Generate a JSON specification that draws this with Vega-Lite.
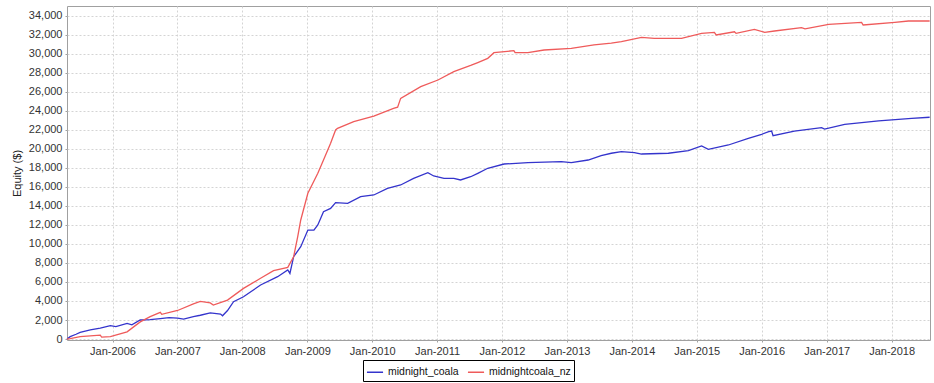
{
  "$schema": "https://vega.github.io/schema/vega-lite/v6.json",
  "width": 863,
  "height": 334,
  "autosize": {"type": "none"},
  "padding": {"left": 67, "top": 6, "right": 4, "bottom": 43},
  "background": "white",
  "config": {
    "view": {"stroke": "#a0a0a0", "strokeWidth": 1},
    "font": "Liberation Sans",
    "axis": {
      "labelFont": "Liberation Sans",
      "labelFontSize": 11,
      "labelColor": "#333333",
      "titleFont": "Liberation Sans",
      "titleFontSize": 11,
      "titleFontWeight": "normal",
      "titleColor": "#222222",
      "domain": false,
      "tickColor": "#a0a0a0",
      "tickSize": 2,
      "gridColor": "#d4d4d4",
      "gridDash": [2, 2],
      "gridWidth": 1
    }
  },
  "data": {
    "values": [
      {"date": "2005-04-20", "series": "midnight_coala", "equity": 0},
      {"date": "2005-05-08", "series": "midnight_coala", "equity": 250},
      {"date": "2005-06-10", "series": "midnight_coala", "equity": 500},
      {"date": "2005-07-03", "series": "midnight_coala", "equity": 700},
      {"date": "2005-08-29", "series": "midnight_coala", "equity": 950},
      {"date": "2005-10-24", "series": "midnight_coala", "equity": 1150},
      {"date": "2005-12-20", "series": "midnight_coala", "equity": 1400},
      {"date": "2006-01-20", "series": "midnight_coala", "equity": 1300},
      {"date": "2006-03-24", "series": "midnight_coala", "equity": 1650},
      {"date": "2006-04-20", "series": "midnight_coala", "equity": 1500},
      {"date": "2006-06-06", "series": "midnight_coala", "equity": 2000},
      {"date": "2006-08-01", "series": "midnight_coala", "equity": 2050},
      {"date": "2006-09-27", "series": "midnight_coala", "equity": 2150},
      {"date": "2006-11-15", "series": "midnight_coala", "equity": 2250},
      {"date": "2007-01-02", "series": "midnight_coala", "equity": 2200},
      {"date": "2007-02-05", "series": "midnight_coala", "equity": 2100},
      {"date": "2007-04-01", "series": "midnight_coala", "equity": 2350},
      {"date": "2007-05-10", "series": "midnight_coala", "equity": 2500},
      {"date": "2007-07-05", "series": "midnight_coala", "equity": 2750},
      {"date": "2007-09-01", "series": "midnight_coala", "equity": 2630},
      {"date": "2007-09-12", "series": "midnight_coala", "equity": 2450},
      {"date": "2007-10-10", "series": "midnight_coala", "equity": 3000},
      {"date": "2007-11-13", "series": "midnight_coala", "equity": 3930},
      {"date": "2008-01-08", "series": "midnight_coala", "equity": 4450},
      {"date": "2008-02-20", "series": "midnight_coala", "equity": 5000},
      {"date": "2008-04-13", "series": "midnight_coala", "equity": 5680},
      {"date": "2008-07-18", "series": "midnight_coala", "equity": 6560},
      {"date": "2008-09-13", "series": "midnight_coala", "equity": 7260},
      {"date": "2008-09-25", "series": "midnight_coala", "equity": 6900},
      {"date": "2008-10-16", "series": "midnight_coala", "equity": 8660},
      {"date": "2008-11-25", "series": "midnight_coala", "equity": 9720},
      {"date": "2009-01-04", "series": "midnight_coala", "equity": 11470},
      {"date": "2009-02-07", "series": "midnight_coala", "equity": 11470},
      {"date": "2009-03-01", "series": "midnight_coala", "equity": 12000},
      {"date": "2009-04-02", "series": "midnight_coala", "equity": 13400},
      {"date": "2009-05-12", "series": "midnight_coala", "equity": 13750},
      {"date": "2009-06-09", "series": "midnight_coala", "equity": 14350},
      {"date": "2009-08-16", "series": "midnight_coala", "equity": 14280},
      {"date": "2009-10-28", "series": "midnight_coala", "equity": 14980},
      {"date": "2010-01-10", "series": "midnight_coala", "equity": 15160},
      {"date": "2010-03-28", "series": "midnight_coala", "equity": 15860},
      {"date": "2010-06-10", "series": "midnight_coala", "equity": 16210},
      {"date": "2010-08-22", "series": "midnight_coala", "equity": 16910},
      {"date": "2010-11-10", "series": "midnight_coala", "equity": 17510},
      {"date": "2010-12-13", "series": "midnight_coala", "equity": 17160},
      {"date": "2011-02-09", "series": "midnight_coala", "equity": 16910},
      {"date": "2011-04-05", "series": "midnight_coala", "equity": 16910},
      {"date": "2011-05-13", "series": "midnight_coala", "equity": 16740},
      {"date": "2011-07-09", "series": "midnight_coala", "equity": 17080},
      {"date": "2011-08-18", "series": "midnight_coala", "equity": 17440},
      {"date": "2011-10-13", "series": "midnight_coala", "equity": 17970},
      {"date": "2012-01-13", "series": "midnight_coala", "equity": 18420},
      {"date": "2012-05-26", "series": "midnight_coala", "equity": 18560},
      {"date": "2012-11-30", "series": "midnight_coala", "equity": 18660},
      {"date": "2013-01-25", "series": "midnight_coala", "equity": 18560},
      {"date": "2013-04-30", "series": "midnight_coala", "equity": 18840},
      {"date": "2013-07-12", "series": "midnight_coala", "equity": 19300},
      {"date": "2013-09-07", "series": "midnight_coala", "equity": 19550},
      {"date": "2013-11-03", "series": "midnight_coala", "equity": 19720},
      {"date": "2014-01-15", "series": "midnight_coala", "equity": 19610},
      {"date": "2014-02-24", "series": "midnight_coala", "equity": 19470},
      {"date": "2014-07-25", "series": "midnight_coala", "equity": 19550},
      {"date": "2014-11-15", "series": "midnight_coala", "equity": 19820},
      {"date": "2015-01-28", "series": "midnight_coala", "equity": 20320},
      {"date": "2015-03-07", "series": "midnight_coala", "equity": 19970},
      {"date": "2015-06-28", "series": "midnight_coala", "equity": 20420},
      {"date": "2015-10-18", "series": "midnight_coala", "equity": 21120},
      {"date": "2016-01-01", "series": "midnight_coala", "equity": 21550},
      {"date": "2016-02-10", "series": "midnight_coala", "equity": 21820},
      {"date": "2016-02-26", "series": "midnight_coala", "equity": 21890},
      {"date": "2016-03-05", "series": "midnight_coala", "equity": 21400},
      {"date": "2016-07-03", "series": "midnight_coala", "equity": 21890},
      {"date": "2016-12-03", "series": "midnight_coala", "equity": 22240},
      {"date": "2016-12-20", "series": "midnight_coala", "equity": 22100},
      {"date": "2017-04-12", "series": "midnight_coala", "equity": 22590},
      {"date": "2017-10-20", "series": "midnight_coala", "equity": 22950},
      {"date": "2018-04-24", "series": "midnight_coala", "equity": 23230},
      {"date": "2018-08-03", "series": "midnight_coala", "equity": 23340},

      {"date": "2005-04-20", "series": "midnightcoala_nz", "equity": 0},
      {"date": "2005-05-08", "series": "midnightcoala_nz", "equity": 30},
      {"date": "2005-07-03", "series": "midnightcoala_nz", "equity": 250},
      {"date": "2005-10-24", "series": "midnightcoala_nz", "equity": 400},
      {"date": "2005-11-01", "series": "midnightcoala_nz", "equity": 200},
      {"date": "2005-12-20", "series": "midnightcoala_nz", "equity": 250},
      {"date": "2006-03-24", "series": "midnightcoala_nz", "equity": 750},
      {"date": "2006-06-06", "series": "midnightcoala_nz", "equity": 1800},
      {"date": "2006-08-01", "series": "midnightcoala_nz", "equity": 2350},
      {"date": "2006-09-27", "series": "midnightcoala_nz", "equity": 2800},
      {"date": "2006-10-05", "series": "midnightcoala_nz", "equity": 2600},
      {"date": "2007-01-02", "series": "midnightcoala_nz", "equity": 3000},
      {"date": "2007-04-01", "series": "midnightcoala_nz", "equity": 3700},
      {"date": "2007-05-10", "series": "midnightcoala_nz", "equity": 3950},
      {"date": "2007-07-05", "series": "midnightcoala_nz", "equity": 3800},
      {"date": "2007-07-22", "series": "midnightcoala_nz", "equity": 3580},
      {"date": "2007-10-10", "series": "midnightcoala_nz", "equity": 4100},
      {"date": "2008-01-08", "series": "midnightcoala_nz", "equity": 5330},
      {"date": "2008-04-13", "series": "midnightcoala_nz", "equity": 6390},
      {"date": "2008-06-25", "series": "midnightcoala_nz", "equity": 7190},
      {"date": "2008-09-13", "series": "midnightcoala_nz", "equity": 7540},
      {"date": "2008-10-16", "series": "midnightcoala_nz", "equity": 8660},
      {"date": "2008-11-08", "series": "midnightcoala_nz", "equity": 10770},
      {"date": "2008-11-25", "series": "midnightcoala_nz", "equity": 12530},
      {"date": "2009-01-04", "series": "midnightcoala_nz", "equity": 15340},
      {"date": "2009-03-01", "series": "midnightcoala_nz", "equity": 17440},
      {"date": "2009-04-02", "series": "midnightcoala_nz", "equity": 18840},
      {"date": "2009-05-12", "series": "midnightcoala_nz", "equity": 20600},
      {"date": "2009-06-09", "series": "midnightcoala_nz", "equity": 22000},
      {"date": "2009-06-20", "series": "midnightcoala_nz", "equity": 22180},
      {"date": "2009-09-19", "series": "midnightcoala_nz", "equity": 22880},
      {"date": "2010-01-10", "series": "midnightcoala_nz", "equity": 23470},
      {"date": "2010-05-01", "series": "midnightcoala_nz", "equity": 24280},
      {"date": "2010-05-24", "series": "midnightcoala_nz", "equity": 24400},
      {"date": "2010-06-10", "series": "midnightcoala_nz", "equity": 25330},
      {"date": "2010-10-01", "series": "midnightcoala_nz", "equity": 26560},
      {"date": "2011-01-06", "series": "midnightcoala_nz", "equity": 27260},
      {"date": "2011-04-05", "series": "midnightcoala_nz", "equity": 28140},
      {"date": "2011-07-09", "series": "midnightcoala_nz", "equity": 28800},
      {"date": "2011-08-18", "series": "midnightcoala_nz", "equity": 29100},
      {"date": "2011-10-13", "series": "midnightcoala_nz", "equity": 29540},
      {"date": "2011-11-17", "series": "midnightcoala_nz", "equity": 30140},
      {"date": "2012-03-08", "series": "midnightcoala_nz", "equity": 30350},
      {"date": "2012-03-15", "series": "midnightcoala_nz", "equity": 30140},
      {"date": "2012-05-26", "series": "midnightcoala_nz", "equity": 30140},
      {"date": "2012-08-25", "series": "midnightcoala_nz", "equity": 30420},
      {"date": "2013-01-25", "series": "midnightcoala_nz", "equity": 30600},
      {"date": "2013-06-02", "series": "midnightcoala_nz", "equity": 30950},
      {"date": "2013-09-07", "series": "midnightcoala_nz", "equity": 31150},
      {"date": "2013-11-03", "series": "midnightcoala_nz", "equity": 31300},
      {"date": "2014-02-24", "series": "midnightcoala_nz", "equity": 31740},
      {"date": "2014-05-07", "series": "midnightcoala_nz", "equity": 31640},
      {"date": "2014-10-07", "series": "midnightcoala_nz", "equity": 31640},
      {"date": "2015-01-28", "series": "midnightcoala_nz", "equity": 32170},
      {"date": "2015-04-10", "series": "midnightcoala_nz", "equity": 32270},
      {"date": "2015-04-20", "series": "midnightcoala_nz", "equity": 32000},
      {"date": "2015-08-01", "series": "midnightcoala_nz", "equity": 32340},
      {"date": "2015-08-10", "series": "midnightcoala_nz", "equity": 32170},
      {"date": "2015-11-21", "series": "midnightcoala_nz", "equity": 32590},
      {"date": "2016-01-18", "series": "midnightcoala_nz", "equity": 32280},
      {"date": "2016-03-13", "series": "midnightcoala_nz", "equity": 32420},
      {"date": "2016-08-12", "series": "midnightcoala_nz", "equity": 32770},
      {"date": "2016-09-01", "series": "midnightcoala_nz", "equity": 32650},
      {"date": "2017-01-12", "series": "midnightcoala_nz", "equity": 33120},
      {"date": "2017-07-16", "series": "midnightcoala_nz", "equity": 33330},
      {"date": "2017-07-25", "series": "midnightcoala_nz", "equity": 33050},
      {"date": "2018-01-19", "series": "midnightcoala_nz", "equity": 33330},
      {"date": "2018-04-06", "series": "midnightcoala_nz", "equity": 33470},
      {"date": "2018-08-03", "series": "midnightcoala_nz", "equity": 33470}
    ]
  },
  "mark": {"type": "line", "strokeWidth": 1.3, "interpolate": "linear"},
  "encoding": {
    "x": {
      "field": "date",
      "type": "temporal",
      "scale": {"domain": ["2005-04-20", "2018-08-05"]},
      "axis": {
        "title": null,
        "format": "%b-%Y",
        "values": ["2006-01-01", "2007-01-01", "2008-01-01", "2009-01-01", "2010-01-01", "2011-01-01", "2012-01-01", "2013-01-01", "2014-01-01", "2015-01-01", "2016-01-01", "2017-01-01", "2018-01-01"],
        "labelPadding": 3
      }
    },
    "y": {
      "field": "equity",
      "type": "quantitative",
      "scale": {"domain": [-105, 35050], "nice": false, "zero": false},
      "axis": {
        "title": "Equity ($)",
        "format": ",d",
        "values": [0, 2000, 4000, 6000, 8000, 10000, 12000, 14000, 16000, 18000, 20000, 22000, 24000, 26000, 28000, 30000, 32000, 34000],
        "labelPadding": 3,
        "titlePadding": 6
      }
    },
    "color": {
      "field": "series",
      "type": "nominal",
      "scale": {"domain": ["midnight_coala", "midnightcoala_nz"], "range": ["#3434cc", "#ef5b5b"]},
      "legend": {
        "title": null,
        "orient": "none",
        "legendX": 296,
        "legendY": 354,
        "direction": "horizontal",
        "symbolType": "stroke",
        "symbolSize": 260,
        "symbolStrokeWidth": 1.5,
        "labelFont": "Liberation Sans",
        "labelFontSize": 10.5,
        "labelColor": "#111111",
        "labelOffset": 4,
        "columnPadding": 5,
        "strokeColor": "#000000",
        "padding": 3,
        "cornerRadius": 0
      }
    }
  }
}
